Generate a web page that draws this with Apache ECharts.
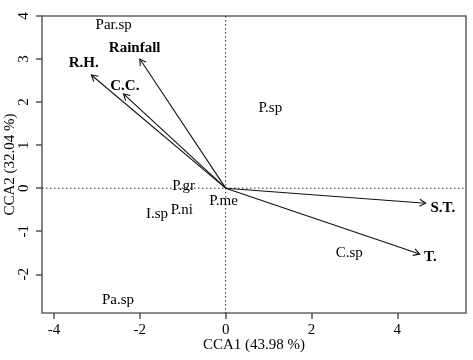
<!DOCTYPE html>
<html><head><meta charset="utf-8">
<script src="https://cdn.jsdelivr.net/npm/echarts@6/dist/echarts.min.js"></script>
<style>html,body{margin:0;padding:0;background:#fff}#c{width:473px;height:360px}</style>
</head><body><div id="c"></div>
<script>
const envNames = ['R.H.', 'C.C.', 'Rainfall', 'S.T.', 'T.'];
const envX = [-3.13, -2.38, -2.0, 4.66, 4.52];
const envY = [2.63, 2.19, 3.0, -0.35, -1.53];
const envLabelX = [-3.31, -2.35, -2.12, 5.06, 4.77];
const envLabelY = [2.91, 2.37, 3.26, -0.46, -1.61];
const speciesNames = ['Par.sp', 'P.sp', 'P.gr', 'P.me', 'I.sp', 'P.ni', 'Pa.sp', 'C.sp'];
const speciesX = [-2.61, 1.04, -0.98, -0.05, -1.60, -1.02, -2.51, 2.88];
const speciesY = [3.78, 1.87, 0.04, -0.29, -0.60, -0.51, -2.61, -1.50];
const xTicks = [-4, -2, 0, 2, 4];
const yTicks = [-2, -1, 0, 1, 2, 3, 4];
const xTitle = 'CCA1 (43.98 %)';
const yTitle = 'CCA2 (32.04 %)';

const FONT = "'Liberation Serif', 'Times New Roman', serif";
const chart = echarts.init(document.getElementById('c'), null, {renderer: 'canvas'});

function textItem(bold) {
  return function (params, api) {
    const p = api.coord([api.value(0), api.value(1)]);
    return {
      type: 'text', x: p[0], y: p[1],
      style: {
        text: api.value(2), textAlign: 'center', textVerticalAlign: 'middle',
        font: (bold ? 'bold ' : '') + '15px ' + FONT, fill: '#000'
      }
    };
  };
}

chart.setOption({
  animation: false,
  backgroundColor: '#fff',
  grid: {left: 42, top: 16, right: 7, bottom: 47, show: true, borderColor: '#666', borderWidth: 1.6,
         backgroundColor: 'transparent', containLabel: false, outerBoundsMode: 'none'},
  xAxis: {
    type: 'value', min: -4.28, max: 5.6,
    name: xTitle, nameLocation: 'middle', nameGap: 25, nameMoveOverlap: false,
    nameTextStyle: {fontFamily: FONT, fontSize: 15, color: '#000'},
    axisLine: {show: false, onZero: false},
    axisTick: {show: true, inside: false, length: 6, customValues: xTicks, lineStyle: {color: '#555', width: 1.5}},
    axisLabel: {customValues: xTicks, fontFamily: FONT, fontSize: 15, color: '#000', margin: 10},
    splitLine: {show: false}
  },
  yAxis: {
    type: 'value', min: -2.9, max: 4,
    name: yTitle, nameLocation: 'middle', nameGap: 24, nameRotate: 90, nameMoveOverlap: false,
    nameTextStyle: {fontFamily: FONT, fontSize: 15, color: '#000'},
    axisLine: {show: false, onZero: false},
    axisTick: {show: true, inside: false, length: 6, customValues: yTicks, lineStyle: {color: '#555', width: 1.5}},
    axisLabel: {customValues: yTicks, rotate: 90, fontFamily: FONT, fontSize: 15, color: '#000', margin: 10},
    splitLine: {show: false}
  },
  series: [
    {
      type: 'custom', silent: true,
      data: [[0, 0]],
      renderItem: function (params, api) {
        const o = api.coord([api.value(0), api.value(1)]);
        const cs = params.coordSys;
        const st = {stroke: '#222', lineWidth: 1, lineDash: [1.5, 2.5]};
        return {type: 'group', children: [
          {type: 'line', shape: {x1: o[0], y1: cs.y, x2: o[0], y2: cs.y + cs.height}, style: st},
          {type: 'line', shape: {x1: cs.x, y1: o[1], x2: cs.x + cs.width, y2: o[1]}, style: st}
        ]};
      }
    },
    {
      type: 'custom', silent: true,
      data: envX.map((x, i) => [x, envY[i]]),
      renderItem: function (params, api) {
        const o = api.coord([0, 0]);
        const t = api.coord([api.value(0), api.value(1)]);
        const ang = Math.atan2(t[1] - o[1], t[0] - o[0]);
        const L = 7, a = Math.PI / 6;
        const p1 = [t[0] - L * Math.cos(ang - a), t[1] - L * Math.sin(ang - a)];
        const p2 = [t[0] - L * Math.cos(ang + a), t[1] - L * Math.sin(ang + a)];
        const st = {stroke: '#111', lineWidth: 1.1, fill: null};
        return {type: 'group', children: [
          {type: 'line', shape: {x1: o[0], y1: o[1], x2: t[0], y2: t[1]}, style: st},
          {type: 'polyline', shape: {points: [p1, t, p2]}, style: st}
        ]};
      }
    },
    {
      type: 'custom', silent: true,
      data: envNames.map((n, i) => [envLabelX[i], envLabelY[i], n]),
      renderItem: textItem(true)
    },
    {
      type: 'custom', silent: true,
      data: speciesNames.map((n, i) => [speciesX[i], speciesY[i], n]),
      renderItem: textItem(false)
    }
  ]
});
</script>
</body></html>
